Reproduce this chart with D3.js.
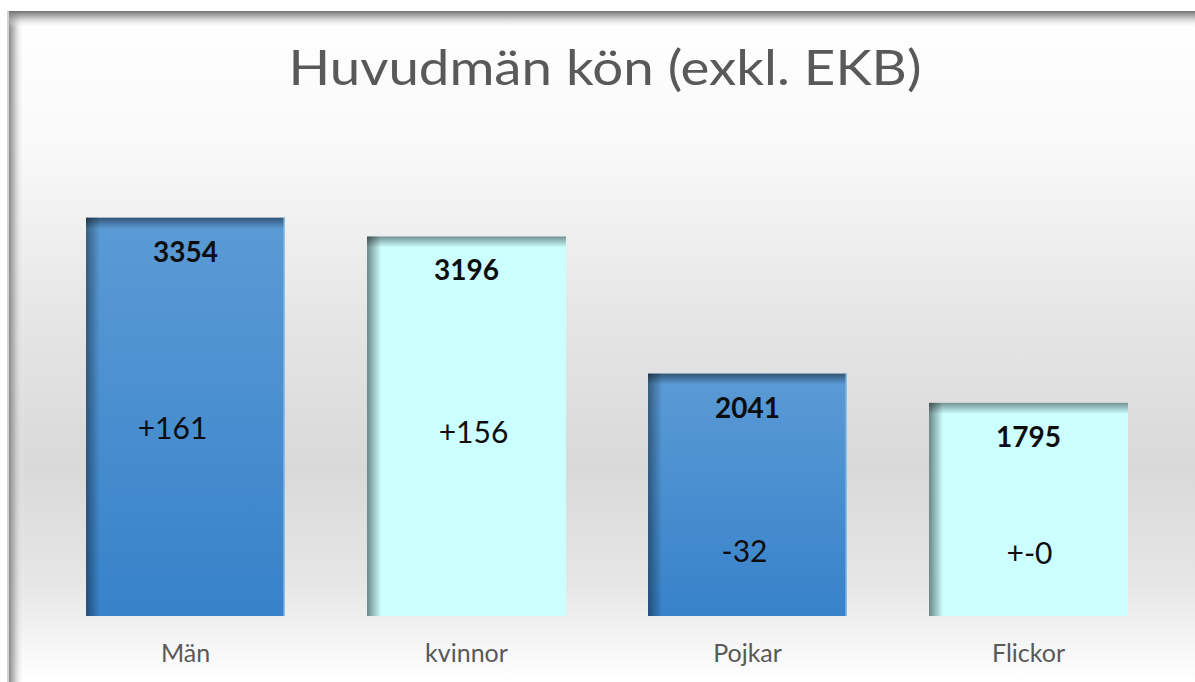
<!DOCTYPE html>
<html>
<head>
<meta charset="utf-8">
<script src="https://cdn.jsdelivr.net/npm/d3@7"></script>
<style>
  html, body { margin: 0; padding: 0; background: #ffffff; }
  svg { display: block; }
</style>
</head>
<body>
<svg id="chart" width="1195" height="682"></svg>
<script>
// Huvudmän per kön, exklusive EKB
const categories = ["Män", "kvinnor", "Pojkar", "Flickor"];
const totals = [3354, 3196, 2041, 1795];
const changes = [161, 156, -32, 0];
const seriesKind = ["dark", "light", "dark", "light"];

// Placement of the change annotations inside each bar (layout only)
const changeBaseline = [439, 443, 562, 564];
const changeShift = [-13, 7, -3, 1];

const W = 1195, H = 682;
const frame = { x: 8, y: 11 };
const baseline = 616;

const svg = d3.select("#chart");
const defs = svg.append("defs");

// Background panel gradient
const bg = defs.append("linearGradient").attr("id", "bgGrad")
  .attr("x1", 0).attr("y1", 0).attr("x2", 0).attr("y2", 1);
[[0, "#ffffff"], [0.2, "#f9f9f9"], [0.45, "#e6e6e6"], [0.68, "#d9d9d9"], [0.85, "#e6e6e6"], [1, "#ffffff"]]
  .forEach(([o, c]) => bg.append("stop").attr("offset", o).attr("stop-color", c));

// Frame inner shadows
const fTop = defs.append("linearGradient").attr("id", "frameTop")
  .attr("x1", 0).attr("y1", 0).attr("x2", 0).attr("y2", 1);
fTop.append("stop").attr("offset", 0).attr("stop-color", "#707070").attr("stop-opacity", 1);
fTop.append("stop").attr("offset", 0.35).attr("stop-color", "#9a9a9a").attr("stop-opacity", 0.7);
fTop.append("stop").attr("offset", 1).attr("stop-color", "#ffffff").attr("stop-opacity", 0);

const fLeft = defs.append("linearGradient").attr("id", "frameLeft")
  .attr("x1", 0).attr("y1", 0).attr("x2", 1).attr("y2", 0);
fLeft.append("stop").attr("offset", 0).attr("stop-color", "#8a8a8a").attr("stop-opacity", 1);
fLeft.append("stop").attr("offset", 0.35).attr("stop-color", "#a8a8a8").attr("stop-opacity", 0.7);
fLeft.append("stop").attr("offset", 1).attr("stop-color", "#ffffff").attr("stop-opacity", 0);

// Bar fills
const darkFill = defs.append("linearGradient").attr("id", "darkFill")
  .attr("x1", 0).attr("y1", 0).attr("x2", 0).attr("y2", 1);
darkFill.append("stop").attr("offset", 0).attr("stop-color", "#5b9bd5");
darkFill.append("stop").attr("offset", 1).attr("stop-color", "#3782ca");

const shadeTop = defs.append("linearGradient").attr("id", "shadeTop")
  .attr("x1", 0).attr("y1", 0).attr("x2", 0).attr("y2", 1);
shadeTop.append("stop").attr("offset", 0).attr("stop-color", "#000").attr("stop-opacity", 0.5);
shadeTop.append("stop").attr("offset", 1).attr("stop-color", "#000").attr("stop-opacity", 0);

const shadeLeft = defs.append("linearGradient").attr("id", "shadeLeft")
  .attr("x1", 0).attr("y1", 0).attr("x2", 1).attr("y2", 0);
shadeLeft.append("stop").attr("offset", 0).attr("stop-color", "#000").attr("stop-opacity", 0.5);
shadeLeft.append("stop").attr("offset", 1).attr("stop-color", "#000").attr("stop-opacity", 0);

// Panel
svg.append("rect").attr("x", 0).attr("y", 0).attr("width", W).attr("height", H).attr("fill", "#ffffff");
svg.append("rect").attr("x", frame.x).attr("y", frame.y)
  .attr("width", W - frame.x).attr("height", H - frame.y).attr("fill", "url(#bgGrad)");
svg.append("rect").attr("x", frame.x - 1).attr("y", frame.y)
  .attr("width", 2).attr("height", H - frame.y).attr("fill", "#d2d2d2");
svg.append("rect").attr("x", frame.x + 1).attr("y", frame.y)
  .attr("width", 15).attr("height", H - frame.y).attr("fill", "url(#frameLeft)");
svg.append("rect").attr("x", frame.x + 1).attr("y", frame.y)
  .attr("width", W - frame.x).attr("height", 17).attr("fill", "url(#frameTop)");

// Scales
const x = d3.scaleBand()
  .domain(categories)
  .range([45, 1169])
  .paddingInner(0.292)
  .paddingOuter(0.146);

const y = d3.scaleLinear()
  .domain([0, 4000])
  .range([baseline, 141]);

const rows = categories.map((c, i) => ({
  cat: c, total: totals[i], change: changes[i], kind: seriesKind[i], i
}));

const fmtChange = v => v > 0 ? "+" + v : (v < 0 ? String(v) : "+-0");

const bars = svg.append("g").selectAll("g.bar").data(rows).join("g").attr("class", "bar");

bars.append("rect")
  .attr("x", d => x(d.cat))
  .attr("y", d => y(d.total))
  .attr("width", x.bandwidth())
  .attr("height", d => y(0) - y(d.total))
  .attr("fill", d => d.kind === "dark" ? "url(#darkFill)" : "#ccffff");

// Inner shading along top and left edges
bars.append("rect")
  .attr("x", d => x(d.cat))
  .attr("y", d => y(d.total))
  .attr("width", x.bandwidth())
  .attr("height", 11)
  .attr("fill", "url(#shadeTop)")
  .attr("opacity", d => d.kind === "dark" ? 0.9 : 0.85);

bars.append("rect")
  .attr("x", d => x(d.cat))
  .attr("y", d => y(d.total))
  .attr("width", 14)
  .attr("height", d => y(0) - y(d.total))
  .attr("fill", "url(#shadeLeft)")
  .attr("opacity", d => d.kind === "dark" ? 0.8 : 0.95);

// Light edge on the right side of the dark bars
bars.filter(d => d.kind === "dark").append("rect")
  .attr("x", d => x(d.cat) + x.bandwidth() - 1.5)
  .attr("y", d => y(d.total))
  .attr("width", 1.5)
  .attr("height", d => y(0) - y(d.total))
  .attr("fill", "#8fc0ea");

// Totals
bars.append("text")
  .attr("x", d => x(d.cat) + x.bandwidth() / 2)
  .attr("y", d => y(d.total) + 44)
  .attr("text-anchor", "middle")
  .attr("font-family", "Lato, 'Open Sans', sans-serif")
  .attr("font-weight", 700)
  .attr("font-size", 28)
  .attr("fill", "#0d0d0d")
  .text(d => d.total);

// Change since previous period
bars.append("text")
  .attr("x", d => x(d.cat) + x.bandwidth() / 2 + changeShift[d.i])
  .attr("y", d => changeBaseline[d.i])
  .attr("text-anchor", "middle")
  .attr("font-family", "Lato, 'Open Sans', sans-serif")
  .attr("font-size", 30)
  .attr("fill", "#0d0d0d")
  .text(d => fmtChange(d.change));

// Category axis
const xAxis = svg.append("g")
  .attr("transform", `translate(0,${baseline})`)
  .call(d3.axisBottom(x).tickSize(0).tickPadding(46));
xAxis.select(".domain").remove();
xAxis.selectAll("text")
  .attr("font-family", "Lato, 'Open Sans', sans-serif")
  .attr("font-size", 25)
  .attr("fill", "#595959")
  .attr("dy", 0);

// Title
svg.append("text")
  .attr("x", 605)
  .attr("y", 85)
  .attr("text-anchor", "middle")
  .attr("font-family", "Lato, 'Open Sans', sans-serif")
  .attr("font-size", 49)
  .attr("fill", "#595959")
  .attr("textLength", 633)
  .attr("lengthAdjust", "spacingAndGlyphs")
  .text("Huvudmän kön (exkl. EKB)");
</script>
</body>
</html>
